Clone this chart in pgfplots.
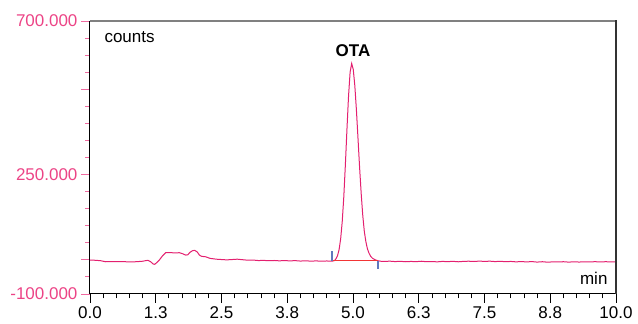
\documentclass[border=0pt]{standalone}
\usepackage{pgfplots}
\pgfplotsset{compat=1.18}
\usepackage{fontspec}
\setmainfont{Liberation Sans}
\definecolor{trace}{HTML}{E3206F}
\definecolor{lab}{HTML}{EC4486}
\definecolor{tickp}{HTML}{F06AA0}
\definecolor{mk}{HTML}{5F78BE}
\definecolor{bl}{HTML}{F23535}
\newcommand{\f}{\fontsize{17}{20}\selectfont}
\begin{document}
\begin{tikzpicture}
\begin{axis}[
 scale only axis, width=526pt, height=273pt,
 xmin=0, xmax=10, ymin=-100, ymax=700,
 axis lines=left, axis line style={-, black, line width=1pt},
 xtick={0,1.25,2.5,3.75,5,6.25,7.5,8.75,10},
 xticklabels={0.0,1.3,2.5,3.8,5.0,6.3,7.5,8.8,10.0},
 minor x tick num=4,
 ytick={-100,0,250,500,700},
 yticklabels={-100.000,,250.000,,700.000},
 minor ytick={-50,50,100,150,200,300,350,400,450,550,600,650},
 tick align=outside,
 major tick length=9pt, minor tick length=4.5pt,
 x tick style={black, line width=0.8pt},
 y tick style={tickp, line width=0.9pt},
 y tick label style={text=lab, font=\f},
 x tick label style={text=black, font=\f},
 /pgf/number format/assume math mode=true,
 clip=false,
]
\addplot[trace, line width=1pt] coordinates {
(0.00,-0.5)(0.10,-1.2)(0.20,-2.4)(0.30,-5.5)(0.40,-5)(0.50,-5.3)(0.60,-5)(0.70,-5.6)(0.80,-6)(0.90,-5.2)
(1.00,-4)(1.05,-2.5)(1.10,-1.2)(1.15,-5)(1.20,-12)(1.23,-13)(1.27,-8)(1.32,0)(1.38,12)(1.44,21)
(1.50,21.5)(1.55,21)(1.62,20.5)(1.70,21)(1.76,18)(1.82,14)(1.86,15)(1.90,22)(1.95,27)(1.99,28)
(2.04,23)(2.08,14)(2.12,10.5)(2.20,9)(2.28,4.5)(2.40,2)(2.50,1)(2.60,0)(2.70,1)(2.80,2)(2.90,0.5)
(3.00,-1)(3.10,-0.5)(3.20,-2)(3.30,-1.5)(3.40,-2.5)(3.50,-1.8)(3.60,-2.8)(3.70,-2)(3.80,-3)(3.90,-2.2)
(4.00,-3.5)(4.10,-2.6)(4.20,-3.8)(4.30,-3)(4.40,-4)(4.50,-3.2)(4.60,-4)(4.65,-2)
(4.675,3)(4.705,12)(4.735,29.5)(4.765,61)(4.795,111.5)(4.825,184.5)(4.855,278.5)(4.885,382.5)(4.915,479.5)(4.945,550)
(4.975,575.5)(5.005,558)(5.035,510)(5.065,439)(5.095,356)(5.125,272)(5.155,196)(5.185,131.5)(5.215,83.5)(5.245,53)
(5.275,32)(5.305,19.5)(5.335,10.5)(5.375,4)(5.425,0)(5.475,-2.5)(5.525,-4)
(5.60,-4.5)(5.70,-3.8)(5.80,-5)(5.90,-4.2)(6.00,-5.5)(6.10,-4.6)(6.20,-5.2)(6.30,-4)(6.40,-5.4)(6.50,-4.8)
(6.60,-5.8)(6.70,-4.5)(6.80,-5.2)(6.90,-4.3)(7.00,-5.6)(7.10,-4.4)(7.20,-3.9)(7.30,-4.8)(7.40,-3.6)(7.50,-4.5)
(7.60,-3.8)(7.70,-5)(7.80,-4.2)(7.90,-5.3)(8.00,-4.6)(8.10,-5.8)(8.20,-4.9)(8.30,-6)(8.40,-5)(8.50,-6.5)
(8.60,-5.4)(8.70,-6.8)(8.80,-5.8)(8.90,-6.2)(9.00,-5.4)(9.10,-6.6)(9.20,-5.6)(9.30,-6.4)(9.40,-5.5)(9.50,-6.1)
(9.60,-5.3)(9.70,-6)(9.80,-5.4)(9.90,-5.8)(10.00,-5.5)
};
\addplot[bl, line width=1.1pt] coordinates {(4.60,-2.5)(5.475,-2.5)};
\addplot[mk, line width=1.3pt] coordinates {(4.60,-2.5)(4.60,25)};
\addplot[mk, line width=1.3pt] coordinates {(5.475,-2.5)(5.475,-28)};
\draw[black!50, line width=2pt] (rel axis cs:0,1) -- (rel axis cs:1,1);
\draw[black!80, line width=1.5pt] (rel axis cs:1,0) -- (rel axis cs:1,1.0035);
\node[anchor=base west, font=\f, xshift=11pt, yshift=-22pt] at (rel axis cs:0,1) {counts};
\node[anchor=base east, font=\f, xshift=-5pt, yshift=9pt] at (rel axis cs:1,0) {min};
\node[anchor=base, font=\f\bfseries] at (axis cs:5.0,595) {OTA};
\end{axis}
\pgfresetboundingbox
\path[use as bounding box] (-90pt,-30pt) rectangle (548pt,294pt);
\end{tikzpicture}
\end{document}
